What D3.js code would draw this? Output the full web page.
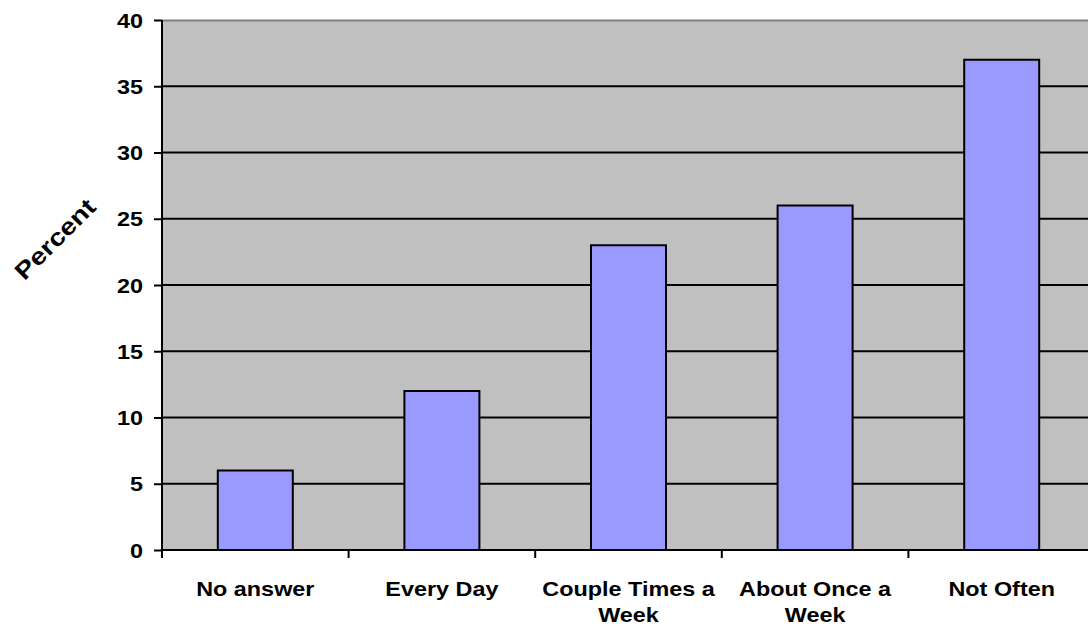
<!DOCTYPE html>
<html><head><meta charset="utf-8">
<script src="https://cdn.jsdelivr.net/npm/d3@7"></script>
<style>body{margin:0;background:#fff}svg{display:block}text{font-family:"Liberation Sans",Arial,sans-serif;font-weight:bold;fill:#000}</style>
</head><body><svg id="c" width="1088" height="627"></svg>
<script>
const categories = ["No answer", "Every Day", "Couple Times a Week", "About Once a Week", "Not Often"];
const labelLines = [["No answer"], ["Every Day"], ["Couple Times a", "Week"], ["About Once a", "Week"], ["Not Often"]];
const values = [6, 12, 23, 26, 37];
const yTicks = [0, 5, 10, 15, 20, 25, 30, 35, 40];

(function(){
const svg = d3.select("#c");
const left = 162, topY = 20, bottom = 550, bandW = 186.6;
const sx = 1.17;
const x = d3.scaleBand().domain(categories).range([left, left + bandW * 5]).paddingInner(0).paddingOuter(0);
const y = d3.scaleLinear().domain([0, 40]).range([bottom, topY]);

svg.append("rect").attr("x", left).attr("y", topY).attr("width", bandW * 5).attr("height", bottom - topY).attr("fill", "#C0C0C0");
svg.append("line").attr("x1", left).attr("x2", left + bandW * 5).attr("y1", topY + 0.5).attr("y2", topY + 0.5).attr("stroke", "#808080").attr("stroke-width", 2);

svg.selectAll(".grid").data(yTicks.filter(d => d > 0 && d < 40)).enter().append("line")
  .attr("x1", left).attr("x2", left + bandW * 5)
  .attr("y1", d => y(d)).attr("y2", d => y(d))
  .attr("stroke", "#000").attr("stroke-width", 2);

const bw = 75;
svg.selectAll(".bar").data(values).enter().append("rect")
  .attr("x", (d, i) => x(categories[i]) + bandW / 2 - bw / 2)
  .attr("y", d => y(d))
  .attr("width", bw)
  .attr("height", d => bottom - y(d))
  .attr("fill", "#9999FF").attr("stroke", "#000").attr("stroke-width", 2);

const yAxis = d3.axisLeft(y).tickValues(yTicks).tickSize(8).tickPadding(6);
const yg = svg.append("g").attr("transform", `translate(${left},0)`).call(yAxis);
yg.select(".domain").attr("stroke", "#000").attr("stroke-width", 2).attr("d", `M0,${topY}V${bottom}`);
yg.selectAll(".tick line").attr("stroke", "#000").attr("stroke-width", 2);
yg.selectAll(".tick text").style("font-size", "20px").attr("font-family", null)
  .attr("x", 0).attr("dy", "0.35em").attr("transform", `translate(-19,0) scale(${sx},1)`);

svg.append("line").attr("x1", left).attr("x2", left + bandW * 5).attr("y1", bottom).attr("y2", bottom).attr("stroke", "#000").attr("stroke-width", 2);
const bounds = d3.range(6).map(i => left + i * bandW);
svg.selectAll(".xt").data(bounds).enter().append("line")
  .attr("x1", d => d).attr("x2", d => d).attr("y1", bottom).attr("y2", bottom + 8)
  .attr("stroke", "#000").attr("stroke-width", 2);

const xl = svg.selectAll(".xl").data(categories).enter().append("text")
  .attr("text-anchor", "middle").style("font-size", "20px")
  .attr("transform", d => `translate(${x(d) + bandW / 2},596) scale(${sx},1)`);
xl.each(function(d, i) {
  const t = d3.select(this);
  labelLines[i].forEach((ln, j) => {
    t.append("tspan").attr("x", 0).attr("dy", j === 0 ? 0 : 26).text(ln);
  });
});

svg.append("text").attr("transform", `translate(55,239) rotate(-45) scale(${sx},1)`)
  .attr("text-anchor", "middle").attr("dy", "0.35em").style("font-size", "24px").text("Percent");
})();
</script></body></html>
